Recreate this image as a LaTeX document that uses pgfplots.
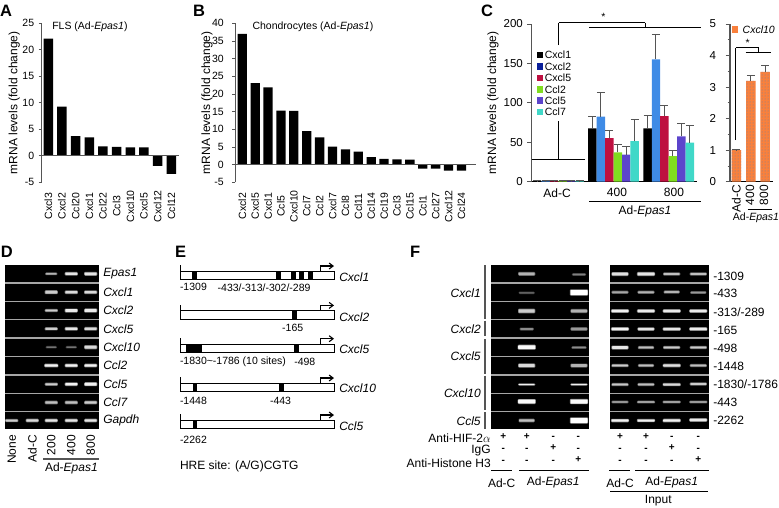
\documentclass[border=0pt]{standalone}
\usepackage{pgfplots}
\pgfplotsset{compat=1.18}
\usepackage{fontspec}
\setmainfont{Liberation Sans}
\usetikzlibrary{patterns,arrows.meta}
\definecolor{cblue}{HTML}{3F8BE6}
\definecolor{cnavy}{HTML}{0A1F9A}
\definecolor{cred}{HTML}{BE1040}
\definecolor{cgreen}{HTML}{80DD20}
\definecolor{cpurp}{HTML}{5C44CC}
\definecolor{ccyan}{HTML}{40D8C8}
\definecolor{corange}{HTML}{F9803C}
\definecolor{axgrey}{HTML}{555555}
\newcommand{\fa}{\fontsize{10.5}{12}\selectfont}
\newcommand{\fb}{\fontsize{12}{14}\selectfont}
\newcommand{\fc}{\fontsize{12}{13}\selectfont}
\newcommand{\fl}{\fontsize{16.5}{18}\selectfont\bfseries}
\newcommand{\T}[4][center]{\node[anchor=#1,inner sep=0pt,outer sep=0pt] at (axis cs:#2,#3) {#4};}
\newcommand{\Rt}[4][east]{\node[anchor=#1,inner sep=0pt,outer sep=0pt,rotate=90] at (axis cs:#2,#3) {#4};}
\newcommand{\Ln}[4]{\draw[black,line width=0.9pt] (axis cs:#1,#2) -- (axis cs:#3,#4);}
\newcommand{\Gy}[4]{\draw[axgrey,line width=1.2pt] (axis cs:#1,#2) -- (axis cs:#3,#4);}
\newcommand{\Rc}[5]{\fill[#5] (axis cs:#1,#2) rectangle (axis cs:#3,#4);}
\newcommand{\PM}[3]{\node[anchor=center,inner sep=0pt,outer sep=0pt,font=\fontsize{10}{10}\selectfont\bfseries] at (axis cs:#1,#2) {\smash{#3}};}
\newcommand{\Gel}[3]{\fill[black] (axis cs:#1,#3) rectangle (axis cs:#2,#3+17);}
\newcommand{\B}[5]{%
 \fill[white!#5!black,opacity=0.55,rounded corners=1pt] (axis cs:#1-#3/2-0.6,#2-#4/2-0.7) rectangle (axis cs:#1+#3/2+0.6,#2+#4/2+0.7);
 \fill[white!#5!black,rounded corners=0.7pt] (axis cs:#1-#3/2,#2-#4/2) rectangle (axis cs:#1+#3/2,#2+#4/2);}
\newcommand{\Prom}[1]{%
 \draw[black,line width=0.8pt,fill=white] (axis cs:180,#1) rectangle (axis cs:334,#1+8.3);
 \draw[black,line width=0.8pt] (axis cs:180,#1) -- (axis cs:180,#1-6);
 \draw[black,line width=1.1pt,-{Straight Barb[length=4pt,width=6pt]}] (axis cs:320.7,#1) -- (axis cs:320.7,#1-5.3) -- (axis cs:334,#1-5.3);}
\newcommand{\Mk}[3]{\fill[black] (axis cs:#1,#3) rectangle (axis cs:#2,#3+8.3);}
\pgfplotsset{
 barpanel/.style={
  scale only axis, clip=false,
  axis y line=left, axis x line=bottom,
  x axis line style={draw=none,-}, y axis line style={axgrey,line width=1.2pt,-},
  ytick style={axgrey,line width=0.8pt}, xtick style={draw=none},
  tick align=outside, major tick length=3.2pt,
  tick label style={font=\fa,/pgf/number format/assume math mode=true,inner sep=1.2pt},
  xticklabel style={rotate=90,anchor=center,font=\fa,xshift=-20.7pt},
  yticklabel style={xshift=-3pt},
  ylabel style={font=\fb},
  xtick=data,
 },
 legimg/.style={legend image code/.code={\fill[#1] (0pt,-3.3pt) rectangle (6.5pt,3.3pt);}}
 }
\begin{document}
\begin{tikzpicture}
\useasboundingbox (0,0) rectangle (779pt,-507pt);
% Panel A
\begin{axis}[barpanel,at={(41.7pt,-23.3pt)},anchor=north west,width=137.3pt,height=159pt,
 xmin=-0.48,xmax=9.56,ymin=-5,ymax=25,ytick={-5,0,5,10,15,20,25},
 xticklabels={Cxcl3,Cxcl2,Ccl20,Cxcl1,Ccl22,Ccl3,Cxcl10,Cxcl5,Cxcl12,Ccl12},
 ylabel={mRNA levels (fold change)},ylabel style={at={(axis description cs:-0.2,0.5)},anchor=center}]
\addplot[ybar,bar width=9.5pt,fill=black,draw=none,bar shift=0pt] coordinates
 {(0,22.1)(1,9.3)(2,3.7)(3,3.5)(4,1.8)(5,1.7)(6,1.6)(7,1.6)(8,-1.9)(9,-3.4)};
\addplot[axgrey,line width=0.9pt,forget plot] coordinates {(-0.48,0)(9.56,0)};
\end{axis}
% Panel B
\begin{axis}[barpanel,at={(235.3pt,-23.3pt)},anchor=north west,width=240.7pt,height=159pt,
 xmin=-0.54,xmax=18.13,ymin=-5,ymax=40,ytick={-5,0,5,10,15,20,25,30,35,40},
 yticklabel style={xshift=-4pt},
 xticklabels={Cxcl2,Cxcl5,Cxcl1,Ccl5,Cxcl10,Ccl7,Ccl2,Cxcl7,Ccl8,Ccl11,Ccl14,Ccl19,Ccl3,Ccl15,Ccl1,Ccl27,Cxcl12,Ccl24},
 ylabel={mRNA levels (fold change)},ylabel style={at={(axis description cs:-0.117,0.5)},anchor=center}]
\addplot[ybar,bar width=9.3pt,fill=black,draw=none,bar shift=0pt] coordinates
 {(0,37)(1,23.1)(2,21.9)(3,15.3)(4,15.2)(5,9.5)(6,7.7)(7,5.1)(8,4.3)(9,3.7)(10,2.1)(11,1.6)(12,1.5)(13,1.4)(14,-1.1)(15,-1.1)(16,-1.7)(17,-1.7)};
\addplot[axgrey,line width=0.9pt,forget plot] coordinates {(-0.54,0)(18.13,0)};
\end{axis}
% Panel C main
\begin{axis}[barpanel,at={(531.7pt,-24pt)},anchor=north west,width=165pt,height=157.7pt,
 xmin=0.516,xmax=3.508,ymin=0,ymax=200,ytick={0,50,100,150,200},
 xtick={1,2,3},xticklabels={},major tick length=4.5pt,yticklabel style={xshift=0pt},
 tick label style={font=\fontsize{11.5}{13}\selectfont,/pgf/number format/assume math mode=true},
 x axis line style={draw=black,line width=0.8pt,-},
 ylabel={mRNA levels (fold change)},ylabel style={font=\fb,at={(axis description cs:-0.235,0.5)},anchor=center},
 ybar=0pt,bar width=8.47pt,
 error bars/y dir=plus,error bars/y explicit,
 error bars/error mark=-,
 error bars/error bar style={axgrey,line width=1pt},
 error bars/error mark options={rotate=90,mark size=4pt,axgrey,line width=1pt},
 legend style={at={(axis cs:0.516,168)},anchor=north west,draw=none,fill=white,inner sep=0pt,
  font=\fontsize{10.5}{10.5}\selectfont,row sep=0pt,legend cell align=left,xshift=5pt,
  nodes={inner ysep=1.8pt,inner xsep=1.5pt,text height=7.6pt,text depth=0.2pt}},
]
\addplot[fill=black,draw=none,legimg=black] coordinates {(1,1)+-(0,0.2)(2,67.6)+-(0,14.8)(3,67.6)+-(0,16.5)};
\addlegendentry{Cxcl1}
\addplot[fill=cblue,draw=none,legimg=cnavy] coordinates {(1,1)+-(0,0.2)(2,82.4)+-(0,30.5)(3,155.2)+-(0,31.7)};
\addlegendentry{Cxcl2}
\addplot[fill=cred,draw=none,legimg=cred] coordinates {(1,1)+-(0,0.2)(2,55.4)+-(0,10.1)(3,83.3)+-(0,13.5)};
\addlegendentry{Cxcl5}
\addplot[fill=cgreen,draw=none,legimg=cgreen] coordinates {(1,1)+-(0,0.2)(2,37.2)+-(0,10.6)(3,32.6)+-(0,7.1)};
\addlegendentry{Ccl2}
\addplot[fill=cpurp,draw=none,legimg=cpurp] coordinates {(1,1)+-(0,0.2)(2,34.2)+-(0,10.2)(3,57.5)+-(0,16.5)};
\addlegendentry{Ccl5}
\addplot[fill=ccyan,draw=none,legimg=ccyan] coordinates {(1,1)+-(0,0.2)(2,51.6)+-(0,27.4)(3,49.5)+-(0,21.5)};
\addlegendentry{Ccl7}
\end{axis}
% Panel C right
\begin{axis}[barpanel,at={(730pt,-24pt)},anchor=north west,width=43.3pt,height=157.7pt,
 xmin=0.55,xmax=3.57,ymin=0,ymax=5,ytick={0,1,2,3,4,5},minor y tick num=1,
 xtick={1,2,3},xticklabels={},
 major tick length=4.5pt,minor tick length=2.5pt,yticklabel style={xshift=-5pt},
 tick label style={font=\fontsize{11.5}{13}\selectfont,/pgf/number format/assume math mode=true},
 x axis line style={draw=black,line width=0.8pt,-},
]
\addplot[ybar,bar width=9.5pt,bar shift=0pt,fill=corange,draw=none,
 postaction={pattern=dots,pattern color=cblue!60!gray},
 error bars/.cd,y dir=plus,y explicit,error mark=-,error bar style={axgrey,line width=1pt},error mark options={rotate=90,mark size=4pt,axgrey,line width=1pt}]
 coordinates {(1,1)+-(0,0.02)(2,3.2)+-(0,0.18)(3,3.48)+-(0,0.2)};
\end{axis}
% Canvas for schematic parts
\begin{axis}[at={(0pt,0pt)},anchor=north west,scale only axis,width=779pt,height=507pt,
 xmin=0,xmax=779,ymin=0,ymax=507,y dir=reverse,hide axis,clip=false]
\T[west]{0}{11}{\fl A}
\T[west]{193}{11}{\fl B}
\T[west]{481}{11}{\fl C}
\T[west]{1}{252}{\fl D}
\T[west]{175}{252}{\fl E}
\T[west]{410}{252}{\fl F}
\T[west]{52.3}{27}{\fa FLS (Ad-\emph{Epas1})}
\T[west]{252.5}{27}{\fa Chondrocytes (Ad-\emph{Epas1})}
\Ln{558.7}{159.3}{558.7}{121}
\Ln{558.7}{45}{558.7}{22.5}
\Ln{558.7}{22.5}{645}{22.5}
\Ln{645}{22.5}{645}{27.3}
\Ln{589.3}{27.3}{700.7}{27.3}
\Ln{531.7}{159.3}{585}{159.3}
\T{603.3}{17}{\fa *}
\T{557}{192.7}{\fb Ad-C}
\T{617}{192.7}{\fb 400}
\T{674}{192.7}{\fb 800}
\Ln{589.3}{201}{700.7}{201}
\T{645}{211.5}{\fb Ad-\emph{Epas1}}
\Rc{731.7}{26}{738.3}{32.7}{corange}
\T[west]{742.7}{30}{\fa\emph{Cxcl10}}
\Ln{735.7}{140}{735.7}{47.7}
\Ln{735.7}{47.7}{758.7}{47.7}
\Ln{758.7}{47.7}{758.7}{52.3}
\Ln{745.7}{52.3}{771}{52.3}
\T{747.7}{43}{\fa *}
\Rt{736.3}{185}{\fb Ad-C}
\Rt{750}{185}{\fb 400}
\Rt{764}{185}{\fb 800}
\Ln{747.7}{209}{772.3}{209}
\T{756}{217.5}{\fa Ad-\emph{Epas1}}
% Panel D
\fill[gray!70] (axis cs:4.7,265) rectangle (axis cs:98.7,429);
\Gel{4.7}{98.7}{265.3}\Gel{4.7}{98.7}{283.7}\Gel{4.7}{98.7}{302}\Gel{4.7}{98.7}{320.3}\Gel{4.7}{98.7}{338.7}\Gel{4.7}{98.7}{357}\Gel{4.7}{98.7}{375.7}\Gel{4.7}{98.7}{394}\Gel{4.7}{98.7}{412}
\B{51.3}{273.8}{11}{1.4}{70}\B{71.3}{273.8}{12}{2.3}{90}\B{90.7}{273.8}{12}{2.6}{90}
\B{51.3}{292.2}{12}{2.6}{80}\B{71.3}{292.2}{12}{2.4}{85}\B{90.7}{292.2}{12}{2.4}{85}
\B{51.3}{310.5}{12}{1.9}{80}\B{71.3}{310.5}{12}{2.6}{92}\B{90.7}{310.5}{12}{2.8}{92}
\B{51.3}{328.8}{12}{1.9}{80}\B{71.3}{328.8}{12}{2.3}{90}\B{90.7}{328.8}{12}{2.3}{85}
\B{51.3}{347.2}{10}{1.1}{45}\B{71.3}{347.2}{10}{1.1}{45}\B{90.7}{347.2}{12}{2.8}{85}
\B{51.3}{365.5}{13}{2.3}{95}\B{71.3}{365.5}{12}{2.3}{95}\B{90.7}{365.5}{12}{2.3}{95}
\B{51.3}{384.2}{12}{1.9}{80}\B{71.3}{384.2}{12}{2.3}{95}\B{90.7}{384.2}{12}{2.6}{95}
\B{51.3}{402.5}{12}{2.3}{75}\B{71.3}{402.5}{12}{2.3}{75}\B{90.7}{402.5}{12}{2.3}{80}
\B{11.7}{420.5}{12}{2}{80}\B{32.3}{420.5}{12}{2.2}{85}\B{51.3}{420.5}{12}{2.2}{90}\B{71.3}{420.5}{12}{2.2}{90}\B{90.7}{420.5}{12}{2.2}{90}
\T[west]{103.3}{273.8}{\fb\emph{Epas1}}
\T[west]{103.3}{292.2}{\fb\emph{Cxcl1}}
\T[west]{103.3}{310.5}{\fb\emph{Cxcl2}}
\T[west]{103.3}{328.8}{\fb\emph{Cxcl5}}
\T[west]{103.3}{347.2}{\fb\emph{Cxcl10}}
\T[west]{103.3}{365.5}{\fb\emph{Ccl2}}
\T[west]{103.3}{384.2}{\fb\emph{Ccl5}}
\T[west]{103.3}{402.5}{\fb\emph{Ccl7}}
\T[west]{103.3}{420.5}{\fb\emph{Gapdh}}
\Rt{11.7}{435}{\fb None}
\Rt{32.3}{435}{\fb Ad-C}
\Rt{51.3}{435}{\fb 200}
\Rt{71.3}{435}{\fb 400}
\Rt{90.7}{435}{\fb 800}
\Gy{43.3}{459}{98.7}{459}
\T[west]{45}{468}{\fb Ad-\emph{Epas1}}
% Panel E
\Prom{271.3}\Mk{192.3}{197}{271.3}\Mk{276}{281}{271.3}\Mk{290.7}{296}{271.3}\Mk{299.3}{304}{271.3}\Mk{308.3}{312.7}{271.3}
\T[west]{339.3}{276.7}{\fb\emph{Cxcl1}}
\T[west]{180}{287.3}{\fa -1309}
\T[west]{217.7}{287.3}{\fa -433/-313/-302/-289}
\Prom{310.7}\Mk{291.7}{296.7}{310.7}
\T[west]{339.3}{316.7}{\fb\emph{Cxcl2}}
\T{292.7}{327.7}{\fa -165}
\Prom{344}\Mk{186}{202.3}{344}\Mk{294.3}{299}{344}
\T[west]{339.3}{348.7}{\fb\emph{Cxcl5}}
\T[west]{180}{361.7}{\fa -1830\textasciitilde-1786 (10 sites)}
\T[west]{294.3}{361.7}{\fa -498}
\Prom{383.3}\Mk{193}{197.3}{383.3}\Mk{279.3}{283.7}{383.3}
\T[west]{339.3}{388.3}{\fb\emph{Cxcl10}}
\T[west]{180}{401}{\fa -1448}
\T[west]{270}{401}{\fa -443}
\Prom{420.3}\Mk{192.7}{197.3}{420.3}
\T[west]{339.3}{425.7}{\fb\emph{Ccl5}}
\T[west]{180}{440}{\fa -2262}
\T[west]{180}{466.7}{\fb HRE site: (A/G)CGTG}
% Panel F gels
\fill[gray!70] (axis cs:491,265) rectangle (axis cs:589.3,429);
\fill[gray!70] (axis cs:610,265) rectangle (axis cs:708.7,429);
\Gel{491}{589.3}{265.3}\Gel{491}{589.3}{283.7}\Gel{491}{589.3}{302}\Gel{491}{589.3}{320.3}\Gel{491}{589.3}{338.7}\Gel{491}{589.3}{357}\Gel{491}{589.3}{375.7}\Gel{491}{589.3}{394}\Gel{491}{589.3}{412}
\Gel{610}{708.7}{265.3}\Gel{610}{708.7}{283.7}\Gel{610}{708.7}{302}\Gel{610}{708.7}{320.3}\Gel{610}{708.7}{338.7}\Gel{610}{708.7}{357}\Gel{610}{708.7}{375.7}\Gel{610}{708.7}{394}\Gel{610}{708.7}{412}
\B{526.7}{273.8}{16}{2.6}{70}\B{579}{274.5}{13}{1.2}{50}
\B{526.7}{292.8}{15}{1}{45}\B{579}{292.5}{17}{5}{100}
\B{526.7}{311}{16}{3.4}{80}\B{579}{311}{16}{2.8}{70}
\B{526.7}{329}{13}{1.6}{55}\B{579}{329}{16}{2.2}{60}
\B{526.7}{347.2}{17}{3.6}{98}\B{579}{347.5}{14}{1.4}{55}
\B{526.7}{365.5}{16}{3}{85}\B{579}{365.5}{16}{2.6}{70}
\B{526.7}{384.5}{16}{1}{95}\B{579}{384.5}{16}{1}{95}
\B{526.7}{401.5}{17}{3.6}{98}\B{579}{401.5}{17}{4}{98}
\B{526.7}{420.5}{15}{2.4}{75}\B{579}{420.5}{17}{5}{100}
\B{620}{274}{16}{2.6}{88}\B{646}{274}{17}{2.8}{90}\B{671.7}{274}{16}{1.9}{75}\B{698.3}{274}{16}{1.9}{75}
\B{620}{292.2}{16}{1.7}{65}\B{646}{292.2}{16}{1.7}{70}\B{671.7}{292}{15}{1.8}{70}\B{698.3}{292.5}{15}{1.5}{60}
\B{620}{311}{17}{2.3}{95}\B{646}{311}{17}{2.2}{92}\B{671.7}{311}{17}{2.2}{92}\B{698.3}{311}{17}{2.2}{92}
\B{620}{329}{17}{2.3}{95}\B{646}{329}{16}{2.1}{90}\B{671.7}{329}{17}{2.1}{90}\B{698.3}{329}{17}{2.3}{92}
\B{620}{347.5}{16}{2.6}{90}\B{646}{347.5}{15}{1.9}{75}\B{671.7}{347.5}{16}{1.9}{80}\B{698.3}{347.5}{16}{1.9}{80}
\B{620}{365.5}{16}{1.9}{80}\B{646}{365.5}{15}{1.8}{75}\B{671.7}{365.5}{17}{2.2}{88}\B{698.3}{365.5}{16}{1.8}{75}
\B{620}{384.5}{16}{1.9}{78}\B{646}{384.5}{16}{1.8}{75}\B{671.7}{384.5}{17}{2}{85}\B{698.3}{384}{16}{1.9}{80}
\B{620}{402}{16}{1.3}{70}\B{646}{402}{17}{1.4}{75}\B{671.7}{402}{17}{1.4}{75}\B{698.3}{402}{17}{1.4}{72}
\B{620}{420.5}{17}{2.1}{95}\B{646}{420.5}{17}{2}{95}\B{671.7}{420.5}{17}{2.3}{95}\B{698.3}{420}{17}{2.2}{92}
\Gy{485}{265.3}{485}{318.5}
\Gy{485}{320.5}{485}{336}
\Gy{485}{339}{485}{373.5}
\Gy{485}{375.5}{485}{410}
\Gy{485}{412}{485}{429}
\T[east]{480.7}{292.7}{\fb\emph{Cxcl1}}
\T[east]{480.7}{329}{\fb\emph{Cxcl2}}
\T[east]{480.7}{356}{\fb\emph{Cxcl5}}
\T[east]{480.7}{392.7}{\fb\emph{Cxcl10}}
\T[east]{480.7}{420.7}{\fb\emph{Ccl5}}
\T[west]{713.3}{276}{\fb -1309}
\T[west]{713.3}{293.3}{\fb -433}
\T[west]{713.3}{312.3}{\fb -313/-289}
\T[west]{713.3}{330}{\fb -165}
\T[west]{713.3}{348.3}{\fb -498}
\T[west]{713.3}{366}{\fb -1448}
\T[west]{713.3}{384.3}{\fb -1830/-1786}
\T[west]{713.3}{402.3}{\fb -443}
\T[west]{713.3}{420.7}{\fb -2262}
\T[east]{490.7}{438.5}{\fc Anti-HIF-2\(\alpha\)}
\T[east]{490.7}{450.5}{\fc IgG}
\T[east]{490.7}{463.3}{\fc Anti-Histone H3}
\PM{503.3}{439.5}{+}\PM{526.7}{439.5}{+}\PM{553.3}{439.5}{-}\PM{578.3}{439.5}{-}
\PM{503.3}{451}{-}\PM{526.7}{451}{-}\PM{553.3}{450.5}{+}\PM{578.3}{451}{-}
\PM{503.3}{463}{-}\PM{526.7}{463}{-}\PM{553.3}{463}{-}\PM{578.3}{462.5}{+}
\PM{620}{439.5}{+}\PM{646}{439.5}{+}\PM{671.7}{439.5}{-}\PM{698.3}{439.5}{-}
\PM{620}{451}{-}\PM{646}{451}{-}\PM{671.7}{450.5}{+}\PM{698.3}{451}{-}
\PM{620}{463}{-}\PM{646}{463}{-}\PM{671.7}{463}{-}\PM{698.3}{462.5}{+}
\Ln{491}{470.7}{512.3}{470.7}
\Ln{519}{470.7}{589}{470.7}
\Ln{609}{470.7}{630}{470.7}
\Ln{635}{470.7}{708.7}{470.7}
\T{501.7}{482.7}{\fb Ad-C}
\T{553.3}{482.7}{\fb Ad-\emph{Epas1}}
\T{620}{482.7}{\fb Ad-C}
\T{671.7}{482.7}{\fb Ad-\emph{Epas1}}
\Ln{610}{491.7}{708.3}{491.7}
\T{658.3}{500.5}{\fb Input}
\end{axis}
\end{tikzpicture}
\end{document}
